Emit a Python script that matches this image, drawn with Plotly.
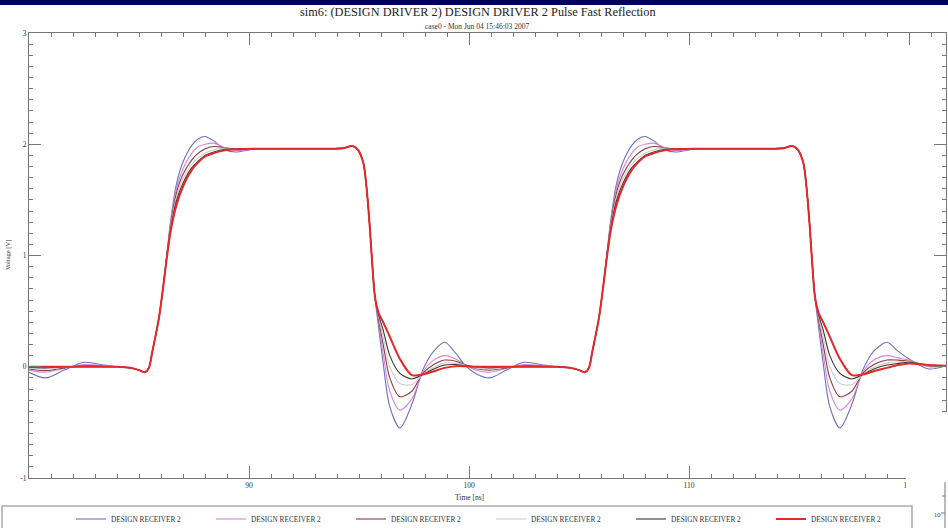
import plotly.graph_objects as go

# ---- data (time in ns, voltage in V) ----
T = [80.0, 80.75, 81.6, 82.5, 83.4, 84.0, 84.6, 85.0, 85.27, 85.45, 85.6, 85.9, 86.1, 86.26,
     86.45, 86.7, 87.0, 87.4, 87.7, 88.0, 88.4, 88.9, 89.4, 90.2, 92.0, 93.5, 94.3, 94.7,
     94.95, 95.2, 95.38, 95.5, 95.6, 95.73, 95.9, 96.1, 96.4, 96.86, 97.4, 97.9, 98.4, 98.9,
     99.4, 99.8, 100.3, 100.95, 101.7, 102.5, 103.4, 104.0, 104.6, 105.0, 105.27, 105.45,
     105.6, 105.9, 106.1, 106.26, 106.45, 106.7, 107.0, 107.4, 107.7, 108.0, 108.4, 108.9,
     109.4, 110.2, 112.0, 113.5, 114.3, 114.7, 114.95, 115.2, 115.38, 115.5, 115.6, 115.73,
     115.9, 116.1, 116.4, 116.86, 117.4, 117.9, 118.4, 119.0, 119.5, 120.0, 120.9, 121.7]

S1 = [-0.05, -0.10, -0.03, 0.04, 0.015, 0.0, -0.01, -0.03, -0.05, -0.01, 0.13, 0.43, 0.72, 1.0,
      1.33, 1.64, 1.84, 1.99, 2.05, 2.07, 2.03, 1.95, 1.93, 1.955, 1.96, 1.96, 1.965, 1.985,
      1.95, 1.83, 1.53, 1.23, 0.93, 0.62, 0.34, 0.03, -0.36, -0.55, -0.34, -0.03, 0.14, 0.22,
      0.12, 0.02, -0.06, -0.10, -0.03, 0.04, 0.015, 0.0, -0.01, -0.03, -0.05, -0.01,
      0.13, 0.43, 0.72, 1.0, 1.33, 1.64, 1.84, 1.99, 2.05, 2.07, 2.03, 1.95,
      1.93, 1.955, 1.96, 1.96, 1.965, 1.985, 1.95, 1.83, 1.53, 1.23, 0.93, 0.62,
      0.34, 0.03, -0.36, -0.55, -0.34, -0.03, 0.14, 0.22, 0.14, 0.07, -0.02, 0.01]
S2 = [-0.03, -0.05, -0.015, 0.02, 0.01, 0.0, -0.01, -0.03, -0.05, -0.01, 0.13, 0.43, 0.72, 0.99,
      1.31, 1.60, 1.78, 1.92, 1.98, 2.00, 2.01, 1.97, 1.945, 1.955, 1.96, 1.96, 1.965, 1.985,
      1.95, 1.83, 1.53, 1.23, 0.93, 0.62, 0.38, 0.12, -0.22, -0.39, -0.29, -0.05, 0.06, 0.10,
      0.07, 0.02, -0.03, -0.05, -0.015, 0.02, 0.01, 0.0, -0.01, -0.03, -0.05, -0.01,
      0.13, 0.43, 0.72, 0.99, 1.31, 1.60, 1.78, 1.92, 1.98, 2.00, 2.01, 1.97,
      1.945, 1.955, 1.96, 1.96, 1.965, 1.985, 1.95, 1.83, 1.53, 1.23, 0.93, 0.62,
      0.38, 0.12, -0.22, -0.39, -0.29, -0.05, 0.06, 0.10, 0.08, 0.06, 0.0, 0.01]
S3 = [-0.02, -0.035, -0.01, 0.01, 0.005, 0.0, -0.01, -0.03, -0.05, -0.01, 0.13, 0.43, 0.72, 0.99,
      1.29, 1.56, 1.73, 1.86, 1.92, 1.96, 1.98, 1.97, 1.955, 1.96, 1.96, 1.96, 1.965, 1.985,
      1.95, 1.83, 1.53, 1.23, 0.93, 0.62, 0.41, 0.20, -0.10, -0.27, -0.22, -0.06, 0.02, 0.06,
      0.05, 0.02, -0.015, -0.03, -0.01, 0.01, 0.005, 0.0, -0.01, -0.03, -0.05, -0.01,
      0.13, 0.43, 0.72, 0.99, 1.29, 1.56, 1.73, 1.86, 1.92, 1.96, 1.98, 1.97,
      1.955, 1.96, 1.96, 1.96, 1.965, 1.985, 1.95, 1.83, 1.53, 1.23, 0.93, 0.62,
      0.41, 0.20, -0.10, -0.27, -0.22, -0.06, 0.02, 0.06, 0.06, 0.05, 0.01, 0.01]
S4 = [-0.01, -0.02, -0.005, 0.005, 0.0, 0.0, -0.01, -0.03, -0.05, -0.01, 0.13, 0.43, 0.72, 0.98,
      1.27, 1.52, 1.69, 1.82, 1.88, 1.92, 1.95, 1.965, 1.96, 1.96, 1.96, 1.96, 1.965, 1.985,
      1.95, 1.83, 1.53, 1.23, 0.93, 0.62, 0.44, 0.27, 0.0, -0.15, -0.16, -0.07, -0.005, 0.035,
      0.03, 0.015, -0.01, -0.02, -0.005, 0.005, 0.0, 0.0, -0.01, -0.03, -0.05, -0.01,
      0.13, 0.43, 0.72, 0.98, 1.27, 1.52, 1.69, 1.82, 1.88, 1.92, 1.95, 1.965,
      1.96, 1.96, 1.96, 1.96, 1.965, 1.985, 1.95, 1.83, 1.53, 1.23, 0.93, 0.62,
      0.44, 0.27, 0.0, -0.15, -0.16, -0.07, -0.005, 0.035, 0.045, 0.045, 0.015, 0.01]
S5 = [-0.005, -0.01, 0.0, 0.0, 0.0, 0.0, -0.01, -0.03, -0.05, -0.01, 0.13, 0.43, 0.72, 0.98,
      1.25, 1.49, 1.65, 1.79, 1.85, 1.90, 1.93, 1.955, 1.96, 1.96, 1.96, 1.96, 1.965, 1.985,
      1.95, 1.83, 1.53, 1.23, 0.93, 0.62, 0.46, 0.33, 0.10, -0.06, -0.11, -0.07, -0.02, 0.015,
      0.02, 0.01, 0.0, -0.01, 0.0, 0.0, 0.0, 0.0, -0.01, -0.03, -0.05, -0.01,
      0.13, 0.43, 0.72, 0.98, 1.25, 1.49, 1.65, 1.79, 1.85, 1.90, 1.93, 1.955,
      1.96, 1.96, 1.96, 1.96, 1.965, 1.985, 1.95, 1.83, 1.53, 1.23, 0.93, 0.62,
      0.46, 0.33, 0.10, -0.06, -0.11, -0.07, -0.02, 0.015, 0.03, 0.04, 0.015, 0.01]
S6 = [0.0, 0.0, 0.0, 0.0, 0.0, 0.0, -0.01, -0.03, -0.05, -0.01, 0.13, 0.43, 0.72, 0.97,
      1.23, 1.45, 1.62, 1.77, 1.84, 1.89, 1.92, 1.945, 1.955, 1.96, 1.96, 1.96, 1.965, 1.985,
      1.95, 1.83, 1.53, 1.23, 0.93, 0.62, 0.48, 0.40, 0.27, 0.07, -0.075, -0.07, -0.04, -0.01,
      0.005, 0.005, 0.0, 0.0, 0.0, 0.0, 0.0, 0.0, -0.01, -0.03, -0.05, -0.01,
      0.13, 0.43, 0.72, 0.97, 1.23, 1.45, 1.62, 1.77, 1.84, 1.89, 1.92, 1.945,
      1.955, 1.96, 1.96, 1.96, 1.965, 1.985, 1.95, 1.83, 1.53, 1.23, 0.93, 0.62,
      0.48, 0.40, 0.27, 0.07, -0.075, -0.07, -0.04, -0.01, 0.015, 0.03, 0.015, 0.01]

SERIES_NAMES = ["DESIGN RECEIVER 2"] * 6
SERIES_COLORS = ["#6e6ebe", "#d486dc", "#8c3c3c", "#cdcdcd", "#363636", "#e22a2a"]
SERIES_WIDTHS = [1.1, 1.1, 1.1, 1.1, 1.1, 2.0]
X_TICKS = [90, 100, 110, 120]
Y_TICKS = [-1, 0, 1, 2, 3]

TITLE = "sim6: (DESIGN DRIVER 2) DESIGN DRIVER 2 Pulse Fast Reflection"
SUBTITLE = "case0 - Mon Jun 04 15:46:03 2007"

SERIF = "Liberation Serif, Times New Roman, serif"

W, H = 948, 528
ML, MR, MT, MB = 29, 2, 33, 50
PW, PH = W - ML - MR, H - MT - MB


def px(x):
    return (x - ML) / PW


def py(y):
    return (H - MB - y) / PH


fig = go.Figure()
for vals, name, col, wd in zip([S1, S2, S3, S4, S5, S6], SERIES_NAMES, SERIES_COLORS, SERIES_WIDTHS):
    fig.add_trace(go.Scatter(x=T, y=vals, mode="lines", name=name,
                             line=dict(color=col, width=wd, shape="spline", smoothing=0.8)))

axis_common = dict(showgrid=False, zeroline=False, showline=True, linecolor="#777777",
                   linewidth=1, mirror="ticks", ticks="inside", ticklen=12, tickwidth=1,
                   tickcolor="#777777", tickfont=dict(family=SERIF, size=7.5, color="#333333"))

fig.update_layout(
    width=W, height=H,
    margin=dict(l=ML, r=MR, t=MT, b=MB, autoexpand=False),
    paper_bgcolor="white", plot_bgcolor="white",
    showlegend=True,
    legend=dict(orientation="h", x=px(71), y=py(519), xanchor="left", yanchor="middle",
                font=dict(family=SERIF, size=7.3, color="#333333"),
                entrywidth=95, entrywidthmode="pixels", itemwidth=30,
                bgcolor="rgba(0,0,0,0)", borderwidth=0, tracegroupgap=0),
    xaxis=dict(range=[80, 80 + PW / 22.0], tickmode="array", tickvals=X_TICKS,
               ticktext=[str(v) for v in X_TICKS],
               minor=dict(tickmode="array", tickvals=list(range(80, 122)), ticks="inside",
                          ticklen=4, tickcolor="#777777"),
               **axis_common),
    yaxis=dict(range=[-1, 3], tickmode="array", tickvals=Y_TICKS,
               ticktext=[str(v) for v in Y_TICKS],
               minor=dict(tickmode="array", tickvals=[round(-1 + 0.1 * i, 1) for i in range(41)],
                          ticks="inside", ticklen=4, tickcolor="#777777"),
               **axis_common),
)

shapes = [
    # dark slide band at the very top
    dict(type="rect", xref="paper", yref="paper", x0=px(0), x1=px(W), y0=py(5), y1=py(0),
         fillcolor="#00005c", line=dict(width=0), layer="above"),
    # overlapping panel at the bottom right
    dict(type="rect", xref="paper", yref="paper", x0=px(906), x1=px(W + 2), y0=py(H + 2), y1=py(412),
         fillcolor="white", line=dict(width=0), layer="above"),
    dict(type="line", xref="paper", yref="paper", x0=px(945), x1=px(945), y0=py(H), y1=py(482),
         line=dict(color="#777777", width=1), layer="above"),
    dict(type="line", xref="paper", yref="paper", x0=px(941), x1=px(945), y0=py(513), y1=py(513),
         line=dict(color="#777777", width=1), layer="above"),
    dict(type="line", xref="paper", yref="paper", x0=px(942), x1=px(945), y0=py(496), y1=py(496),
         line=dict(color="#777777", width=1), layer="above"),
    # legend box
    dict(type="rect", xref="paper", yref="paper", x0=px(2), x1=px(912), y0=py(H + 5), y1=py(506),
         fillcolor="rgba(0,0,0,0)", line=dict(color="#aaaaaa", width=1.5), layer="above"),
]

annotations = [
    dict(text=TITLE, x=px(478), y=py(12.5), xref="paper", yref="paper", showarrow=False,
         xanchor="center", yanchor="middle", font=dict(family=SERIF, size=12.3, color="#222222")),
    dict(text=SUBTITLE, x=px(477), y=py(26), xref="paper", yref="paper", showarrow=False,
         xanchor="center", yanchor="middle", font=dict(family=SERIF, size=7.5, color="#333333")),
    dict(text="Voltage [V]", x=px(8), y=py(255), xref="paper", yref="paper", showarrow=False,
         textangle=-90, xanchor="center", yanchor="middle",
         font=dict(family=SERIF, size=6.5, color="#333333")),
    dict(text="Time [ns]", x=px(469), y=py(497), xref="paper", yref="paper", showarrow=False,
         xanchor="center", yanchor="middle", font=dict(family=SERIF, size=7.5, color="#333333")),
    dict(text="10", x=px(937), y=py(514), xref="paper", yref="paper", showarrow=False,
         xanchor="center", yanchor="middle", font=dict(family=SERIF, size=6.5, color="#333333")),
]

fig.update_layout(shapes=shapes, annotations=annotations)
fig.write_html("out.html")
